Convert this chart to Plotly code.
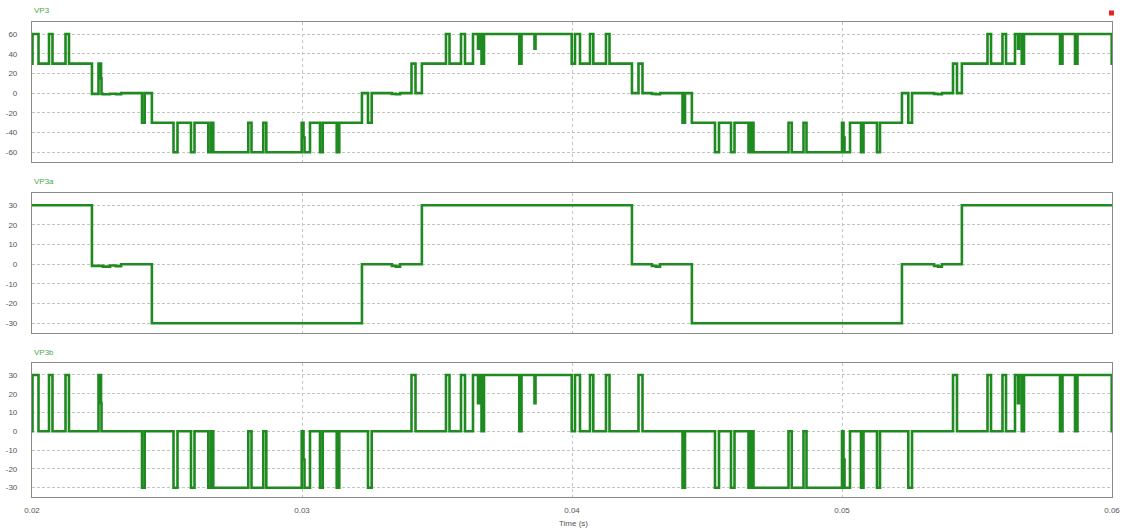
import plotly.graph_objects as go
from plotly.subplots import make_subplots

# ---- waveform data: step breakpoints (time in s, level held until next point) ----
VP3_T = [
    0.020000, 0.020019, 0.020241, 0.020630, 0.020759, 0.021241, 0.021370, 0.022220,
    0.022463, 0.022556, 0.022574, 0.022630, 0.022890, 0.023110, 0.023300, 0.024074,
    0.024174, 0.024440, 0.025241, 0.025389, 0.025889, 0.026019, 0.026530, 0.026630,
    0.026715, 0.028011, 0.028130, 0.028567, 0.028678, 0.029989, 0.030056, 0.030093,
    0.030296, 0.030667, 0.030767, 0.031285, 0.031381, 0.032220, 0.032444, 0.032581,
    0.033330, 0.033480, 0.033630, 0.034056, 0.034204, 0.034440, 0.035333, 0.035463,
    0.035889, 0.036037, 0.036333, 0.036519, 0.036556, 0.036648, 0.036741, 0.038048,
    0.038130, 0.038611, 0.038648, 0.039989, 0.040111, 0.040296, 0.040667, 0.040789,
    0.041259, 0.041389, 0.042220, 0.042463, 0.042611, 0.042960, 0.043110, 0.043260,
    0.044093, 0.044185, 0.044440, 0.045296, 0.045444, 0.045889, 0.046019, 0.046537,
    0.046630, 0.046722, 0.048019, 0.048137, 0.048574, 0.048685, 0.050000, 0.050056,
    0.050093, 0.050296, 0.050704, 0.050796, 0.051296, 0.051407, 0.052220, 0.052456,
    0.052593, 0.053410, 0.053560, 0.053700, 0.054111, 0.054259, 0.054440, 0.055389,
    0.055519, 0.055944, 0.056074, 0.056407, 0.056519, 0.056556, 0.056656, 0.056741,
    0.058074, 0.058167, 0.058630, 0.058722, 0.059989, 0.060000,
]
VP3_V = [
    30, 60, 30, 60, 30, 60, 30, -0.8,
    30, 15, -0.8, -1.2, -0.6, -1.0, 0, -30,
    0, -30, -60, -30, -60, -30, -60, -30,
    -60, -30, -60, -30, -60, -30, -45, -60,
    -30, -60, -30, -60, -30, 0, -30, 0,
    -0.8, -1.2, 0, 30, 0, 30, 60, 30,
    60, 30, 60, 45, 60, 30, 60, 30,
    60, 45, 60, 30, 60, 30, 60, 30,
    60, 30, 0, 30, 0, -0.8, -1.2, 0,
    -30, 0, -30, -60, -30, -60, -30, -60,
    -30, -60, -30, -60, -30, -60, -30, -45,
    -60, -30, -60, -30, -60, -30, 0, -30,
    0, -0.8, -1.2, 0, 30, 0, 30, 60,
    30, 60, 30, 60, 45, 60, 30, 60,
    30, 60, 30, 60, 30, 30,
]

VP3A_T = [
    0.02000, 0.02222, 0.02263, 0.02289, 0.02311, 0.02330, 0.02444, 0.03222,
    0.03333, 0.03348, 0.03363, 0.03444, 0.04222, 0.04296, 0.04311, 0.04326,
    0.04444, 0.05222, 0.05341, 0.05356, 0.05370, 0.05444, 0.06000,
]
VP3A_V = [
    30, -0.8, -1.2, -0.6, -1.0, 0, -30, 0,
    -0.8, -1.2, 0, 30, 0, -0.8, -1.2, 0,
    -30, 0, -0.8, -1.2, 0, 30, 30,
]

VP3B_T = [
    0.020000, 0.020019, 0.020241, 0.020630, 0.020759, 0.021241, 0.021370, 0.022463,
    0.022556, 0.022574, 0.024074, 0.024174, 0.025241, 0.025389, 0.025889, 0.026019,
    0.026530, 0.026630, 0.026715, 0.028011, 0.028130, 0.028567, 0.028678, 0.029989,
    0.030056, 0.030093, 0.030296, 0.030667, 0.030767, 0.031285, 0.031381, 0.032444,
    0.032581, 0.034056, 0.034204, 0.035333, 0.035463, 0.035889, 0.036037, 0.036333,
    0.036519, 0.036556, 0.036648, 0.036741, 0.038048, 0.038130, 0.038611, 0.038648,
    0.039989, 0.040111, 0.040296, 0.040667, 0.040789, 0.041259, 0.041389, 0.042463,
    0.042611, 0.044093, 0.044185, 0.045296, 0.045444, 0.045889, 0.046019, 0.046537,
    0.046630, 0.046722, 0.048019, 0.048137, 0.048574, 0.048685, 0.050000, 0.050056,
    0.050093, 0.050296, 0.050704, 0.050796, 0.051296, 0.051407, 0.052456, 0.052593,
    0.054111, 0.054259, 0.055389, 0.055519, 0.055944, 0.056074, 0.056407, 0.056519,
    0.056556, 0.056656, 0.056741, 0.058074, 0.058167, 0.058630, 0.058722, 0.059989,
    0.060000,
]
VP3B_V = [
    0, 30, 0, 30, 0, 30, 0, 30,
    15, 0, -30, 0, -30, 0, -30, 0,
    -30, 0, -30, 0, -30, 0, -30, 0,
    -15, -30, 0, -30, 0, -30, 0, -30,
    0, 30, 0, 30, 0, 30, 0, 30,
    15, 30, 0, 30, 0, 30, 15, 30,
    0, 30, 0, 30, 0, 30, 0, 30,
    0, -30, 0, -30, 0, -30, 0, -30,
    0, -30, 0, -30, 0, -30, 0, -15,
    -30, 0, -30, 0, -30, 0, -30, 0,
    30, 0, 30, 0, 30, 0, 30, 15,
    30, 0, 30, 0, 30, 0, 30, 0,
    0,
]

TITLES = ["VP3", "VP3a", "VP3b"]
X_TICKS = [0.02, 0.03, 0.04, 0.05, 0.06]
X_TICK_TEXT = ["0.02", "0.03", "0.04", "0.05", "0.06"]
Y_TICKS_1 = [60, 40, 20, 0, -20, -40, -60]
Y_TICKS_23 = [30, 20, 10, 0, -10, -20, -30]

# ---- styling ----
W, H = 1125, 530
ML, MR = 32, 13
TRACE_GREEN = "#1f8a1f"
TITLE_GREEN = "#4aa84a"
GRID = "#c4c4c4"
FRAME = "#8a8a8a"
TICK_FONT = dict(family="Liberation Sans, Arial, sans-serif", size=8, color="#555555")

# panel pixel extents (top, bottom) -> paper fractions
panels_px = [(22.0, 162.3), (193.3, 333.3), (363.3, 496.7)]
domains = [[1 - b / H, 1 - t / H] for t, b in panels_px]
y_ranges = [[-70.2, 72.2], [-35.1, 36.1], [-34.8, 36.2]]
y_ticks = [Y_TICKS_1, Y_TICKS_23, Y_TICKS_23]

fig = make_subplots(rows=3, cols=1, shared_xaxes=True, vertical_spacing=0.02)

series = [(VP3_T, VP3_V), (VP3A_T, VP3A_V), (VP3B_T, VP3B_V)]
for i, (t, v) in enumerate(series, start=1):
    fig.add_trace(
        go.Scatter(
            x=t, y=v, mode="lines",
            line=dict(color=TRACE_GREEN, width=2.6, shape="hv"),
            hoverinfo="skip", showlegend=False,
        ),
        row=i, col=1,
    )

for i in range(3):
    ax = "" if i == 0 else str(i + 1)
    fig.layout["yaxis" + ax].update(
        domain=domains[i],
        range=y_ranges[i],
        tickvals=y_ticks[i],
        ticktext=[str(v) for v in y_ticks[i]],
        tickfont=TICK_FONT,
        ticks="",
        ticklabelstandoff=12,
        showgrid=True, gridcolor=GRID, griddash="3px,2px", gridwidth=1,
        zeroline=False,
        showline=True, mirror=True, linecolor=FRAME, linewidth=1.2,
    )
    fig.layout["xaxis" + ax].update(
        range=[0.02, 0.06],
        tickvals=X_TICKS,
        ticktext=X_TICK_TEXT,
        showticklabels=(i == 2),
        tickfont=TICK_FONT,
        ticks="",
        ticklabelstandoff=6,
        showgrid=True, gridcolor=GRID, griddash="dot", gridwidth=1,
        zeroline=False,
        showline=True, mirror=True, linecolor=FRAME, linewidth=1.2,
    )

annotations = []
for name, ypix in zip(TITLES, [10.7, 181.5, 352.0]):
    annotations.append(dict(
        text=name, x=0, y=1 - ypix / H, xref="paper", yref="paper",
        xanchor="left", yanchor="middle", showarrow=False,
        font=dict(family="Liberation Sans, Arial, sans-serif", size=8, color=TITLE_GREEN),
    ))
annotations.append(dict(
    text="Time (s)", x=(573 - ML) / (W - ML - MR), y=1 - 523 / H,
    xref="paper", yref="paper", xanchor="center", yanchor="middle",
    showarrow=False, font=TICK_FONT,
))

# small red marker in the top-right corner
cx, cy, hs = (1111.5 - ML) / (W - ML - MR), 1 - 13 / H, 2.5
shapes = [dict(
    type="rect", xref="paper", yref="paper",
    x0=cx - hs / (W - ML - MR), x1=cx + hs / (W - ML - MR),
    y0=cy - hs / H, y1=cy + hs / H,
    fillcolor="#e8231f", line=dict(width=0),
)]

fig.update_layout(
    width=W, height=H,
    margin=dict(l=ML, r=MR, t=0, b=0),
    paper_bgcolor="white", plot_bgcolor="white",
    annotations=annotations, shapes=shapes,
    showlegend=False,
)

fig.write_html("out.html")
